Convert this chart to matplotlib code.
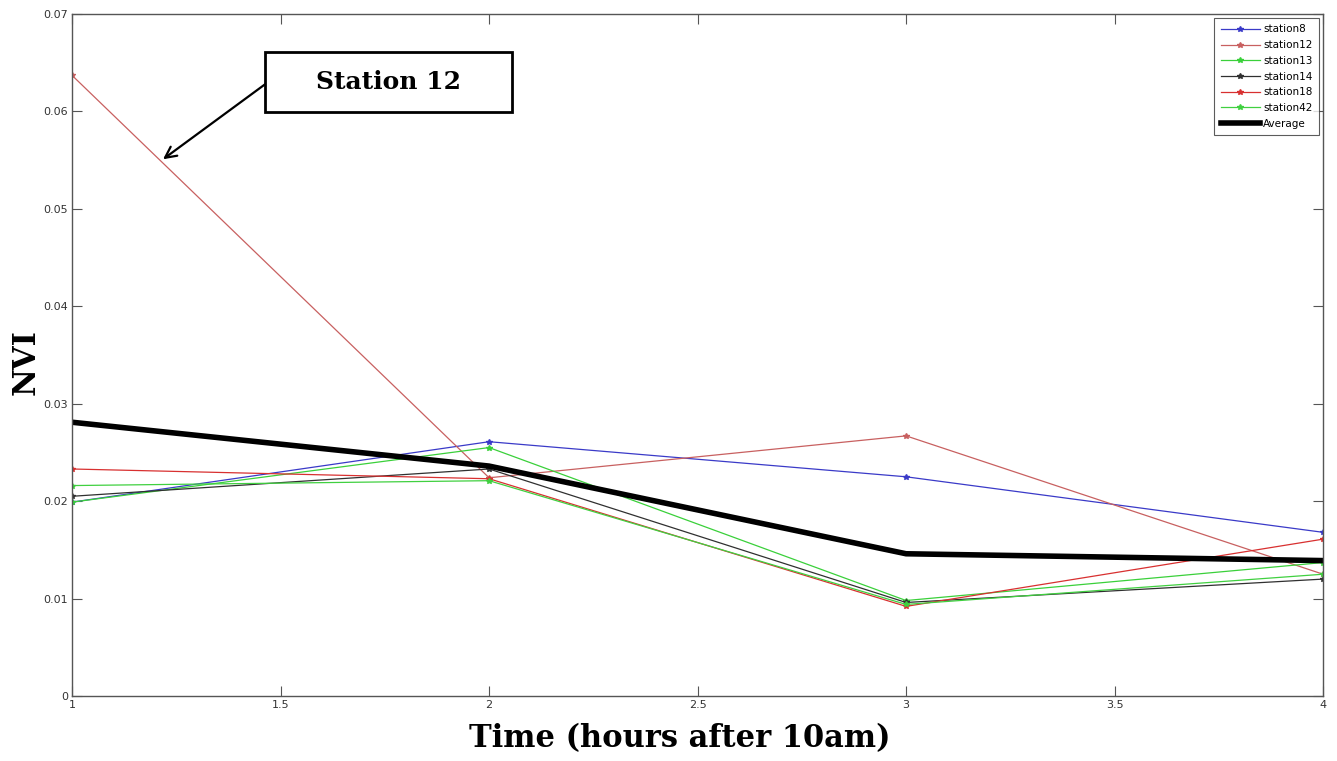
import matplotlib
matplotlib.use("Agg")
from matplotlib import pyplot as plt
from matplotlib.patches import Rectangle

# hours after 10am
hours = [1, 2, 3, 4]

station8 = [0.0199, 0.0261, 0.0225, 0.0168]
station12 = [0.0637, 0.0224, 0.0267, 0.0125]
station13 = [0.0199, 0.0255, 0.0098, 0.0137]
station14 = [0.0205, 0.0233, 0.0096, 0.0120]
station18 = [0.0233, 0.0223, 0.0092, 0.0161]
station42 = [0.0216, 0.0221, 0.0094, 0.0125]
average = [0.0281, 0.0236, 0.0146, 0.0139]

x_ticks = [1, 1.5, 2, 2.5, 3, 3.5, 4]
x_tick_labels = ['1', '1.5', '2', '2.5', '3', '3.5', '4']
y_ticks = [0, 0.01, 0.02, 0.03, 0.04, 0.05, 0.06, 0.07]
y_tick_labels = ['0', '0.01', '0.02', '0.03', '0.04', '0.05', '0.06', '0.07']

series = [
    ('station8', station8, '#3a3ac8'),
    ('station12', station12, '#c86060'),
    ('station13', station13, '#3ad03a'),
    ('station14', station14, '#303030'),
    ('station18', station18, '#d83030'),
    ('station42', station42, '#40d040'),
]

fig = plt.figure(figsize=(13.37, 7.61), dpi=100)
ax = fig.add_axes([0.0539, 0.0854, 0.9357, 0.8962])

for name, vals, col in series:
    ax.plot(hours, vals, color=col, linewidth=0.9, marker='*', markersize=4, label=name)
ax.plot(hours, average, color='black', linewidth=4, label='Average')

ax.set_xlim(1, 4)
ax.set_ylim(0, 0.07)
ax.set_xticks(x_ticks)
ax.set_xticklabels(x_tick_labels)
ax.set_yticks(y_ticks)
ax.set_yticklabels(y_tick_labels)
ax.tick_params(direction='in', top=True, right=True, length=7, width=0.8,
               labelsize=8, colors='#555555', labelcolor='#333333', pad=3)
for sp in ax.spines.values():
    sp.set_color('#555555')
    sp.set_linewidth(1)

ax.set_xlabel('Time (hours after 10am)', family='DejaVu Serif', fontweight='bold', fontsize=22)
ax.xaxis.set_label_coords(0.486, -0.04)
ax.set_ylabel('NVI', family='DejaVu Serif', fontweight='bold', fontsize=22)
ax.yaxis.set_label_coords(-0.024, 0.49)

leg = ax.legend(loc='upper right', fontsize=7.5, frameon=True, fancybox=False,
                edgecolor='#333333', borderpad=0.6, labelspacing=0.55,
                handlelength=3.8, handletextpad=0.3, borderaxespad=0.4)
leg.get_frame().set_linewidth(0.8)

# annotation box for Station 12
ax.add_patch(Rectangle((0.1543, 0.8563), 0.1974, 0.088, transform=ax.transAxes,
                       facecolor='white', edgecolor='black', linewidth=2, zorder=5))
ax.text(0.253, 0.9003, 'Station 12', transform=ax.transAxes, ha='center', va='center',
        family='DejaVu Serif', fontweight='bold', fontsize=18, zorder=6)
ax.annotate('', xy=(0.0727, 0.787), xycoords='axes fraction',
            xytext=(0.1543, 0.897), textcoords='axes fraction',
            arrowprops=dict(arrowstyle='->', color='black', lw=1.6,
                            mutation_scale=20, shrinkA=0, shrinkB=0))

fig.savefig('out.png', dpi=100)
